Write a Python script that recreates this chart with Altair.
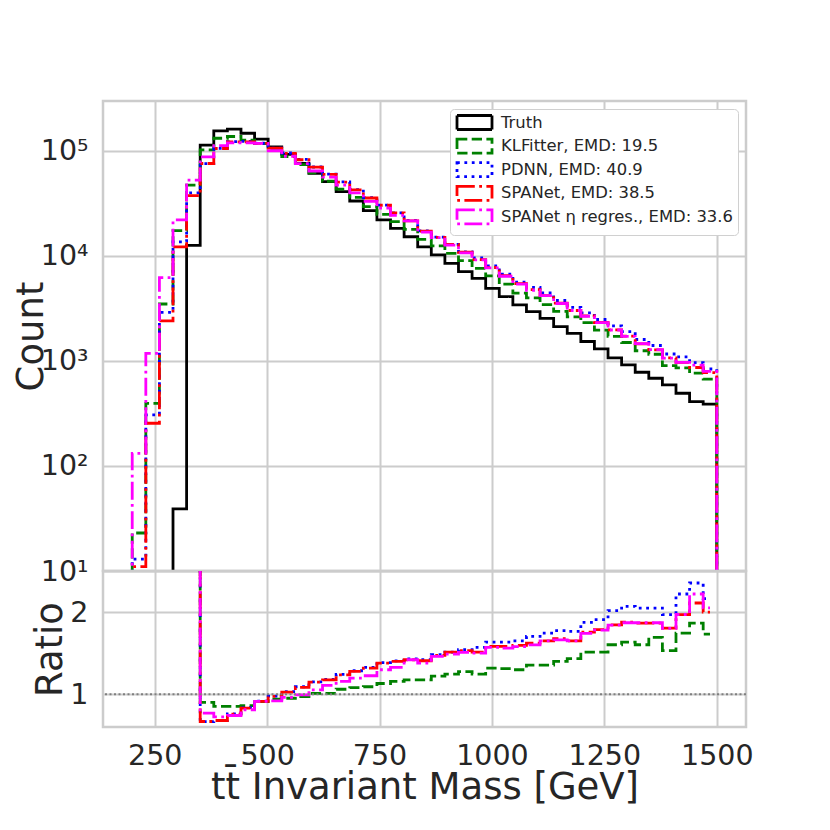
import altair as alt
import numpy as np
import pandas as pd

# ---------------- data ----------------
BIN_LO, BIN_HI, N_BINS = 200.0, 1500.0, 43

SERIES = ["Truth", "KLFitter, EMD: 19.5", "PDNN, EMD: 40.9",
          "SPANet, EMD: 38.5", "SPANet η regres., EMD: 33.6"]
COLORS = ["black", "green", "blue", "red", "magenta"]
DASHES = [[1, 0], [10.3, 4.4], [2.8, 4.6], [17.8, 4.4, 2.8, 4.4], [17.8, 4.4, 2.8, 4.4]]

# truth counts per bin (43 bins)
truth = [0, 0, 0, 39, 12600, 113500, 155000, 161000, 147000, 129000,
         109000, 92500, 76000, 61000, 50800, 40800, 33300, 27000, 22000, 18300,
         15200, 12200, 10200, 8500, 7080, 6100, 4900, 4100, 3410, 2940,
         2540, 2120, 1830, 1530, 1300, 1070, 916, 780, 684, 591,
         492, 410, 387]

# predicted counts in the first five bins
klf_low = [23, 395, 3480, 17400, 47200]
pdnn_low = [13, 306, 2900, 13600, 39800]
spa_low = [11, 255, 2400, 12200, 37400]
spaeta_low = [132, 1180, 6200, 22000, 52700]

# ratio to truth for bins 5..42
klf_ratio = [0.90, 0.85, 0.85, 0.86, 0.91, 0.94, 0.95, 0.97, 1.01, 1.01,
             1.06, 1.08, 1.09, 1.13, 1.155, 1.175, 1.175, 1.22, 1.245, 1.275,
             1.244, 1.317, 1.31, 1.297, 1.354, 1.354, 1.40, 1.432, 1.512, 1.512,
             1.602, 1.634, 1.602, 1.691, 1.529, 1.744, 1.866, 1.732]
pdnn_ratio = [0.665, 0.68, 0.76, 0.835, 0.915, 0.975, 1.03, 1.09, 1.15, 1.18,
              1.24, 1.285, 1.325, 1.385, 1.405, 1.43, 1.42, 1.48, 1.512, 1.541,
              1.57, 1.634, 1.634, 1.65, 1.704, 1.744, 1.773, 1.765, 1.874, 1.907,
              2.017, 2.07, 2.049, 2.049, 1.968, 2.22, 2.354, 2.163]
spa_ratio = [0.667, 0.679, 0.756, 0.829, 0.911, 0.972, 1.024, 1.082, 1.146, 1.175,
             1.236, 1.277, 1.317, 1.378, 1.399, 1.419, 1.407, 1.472, 1.512, 1.529,
             1.512, 1.582, 1.582, 1.594, 1.622, 1.65, 1.675, 1.65, 1.756, 1.785,
             1.845, 1.878, 1.866, 1.866, 1.805, 1.968, 2.11, 2.0]
spaeta_ratio = [0.77, 0.724, 0.74, 0.81, 0.911, 0.919, 0.96, 0.992, 1.053, 1.106,
                1.155, 1.195, 1.224, 1.297, 1.326, 1.419, 1.378, 1.46, 1.488, 1.51,
                1.50, 1.57, 1.56, 1.58, 1.60, 1.65, 1.66, 1.65, 1.74, 1.78,
                1.84, 1.87, 1.87, 1.87, 1.80, 1.97, 2.22, 2.05]

X_TICKS = [250, 500, 750, 1000, 1250, 1500]
Y_TICKS = [10, 100, 1000, 10000, 100000]
R_TICKS = [1, 2]

# ---------------- build tables ----------------
edges = np.linspace(BIN_LO, BIN_HI, N_BINS + 1)
centers = 0.5 * (edges[:-1] + edges[1:])
truth_a = np.array(truth, dtype=float)

preds = []
for low, rat in [(klf_low, klf_ratio), (pdnn_low, pdnn_ratio),
                 (spa_low, spa_ratio), (spaeta_low, spaeta_ratio)]:
    preds.append(np.concatenate([np.array(low, float), truth_a[5:] * np.array(rat)]))

FLOOR = 1.0


def hist_frame(name, vals):
    vals = np.asarray(vals, float)
    s = int(np.argmax(vals > 0))
    rows = [(edges[s], FLOOR)]
    rows += [(edges[k], vals[k]) for k in range(s, N_BINS)]
    rows += [(edges[N_BINS], vals[N_BINS - 1]), (edges[N_BINS], FLOOR)]
    return pd.DataFrame({"x": [r[0] for r in rows], "y": [r[1] for r in rows],
                         "i": range(len(rows)), "series": name})


def ratio_frame(name, vals):
    ks = [k for k in range(N_BINS) if truth_a[k] > 0]
    return pd.DataFrame({"x": centers[ks], "r": vals[ks] / truth_a[ks], "i": range(len(ks))})


FONT = "DejaVu Sans"
TXT = "#262626"
W, H_TOP, H_BOT = 643, 470, 156

xscale = alt.Scale(domain=[135, 1565], nice=False, zero=False)
yscale = alt.Scale(type="log", domain=[10, 2.98e5], nice=False)
rscale = alt.Scale(domain=[0.6, 2.5], nice=False, zero=False)

color_scale = alt.Scale(domain=SERIES, range=COLORS)
dash_scale = alt.Scale(domain=SERIES, range=DASHES)

legend = alt.Legend(title=None, orient="top-right", offset=8,
                    symbolType="M-2.5,-1H2.5V1H-2.5Z", symbolSize=196,
                    symbolStrokeWidth=2.8, symbolFillColor="transparent",
                    labelFont=FONT, labelFontSize=16.4, labelColor=TXT, labelLimit=500,
                    fillColor="white", strokeColor="#d0d0d0", cornerRadius=4,
                    padding=5, rowPadding=-3.4, symbolOffset=11, labelOffset=18)

top_x_axis = alt.Axis(values=X_TICKS, labels=False, ticks=False, domain=False,
                      title=None, grid=True, minExtent=0, maxExtent=0, labelPadding=0)
sup = {10: "¹", 100: "²", 1000: "³", 10000: "⁴", 100000: "⁵"}
label_expr = "'10' + (" + " : ".join(
    f"datum.value == {v} ? '{s}'" for v, s in sup.items()) + " : '')"
top_y_axis = alt.Axis(values=Y_TICKS, format=".0f", labelExpr=label_expr,
                      title="Count", titleX=-71.5, titleY=H_TOP / 2, titleAngle=270,
                      titleAlign="center", titleBaseline="middle",
                      ticks=False, domain=False, grid=True, labelPadding=15)

top_layers = []
for name, vals in zip(SERIES, [truth_a] + preds):
    top_layers.append(
        alt.Chart(hist_frame(name, vals)).mark_line(
            interpolate="step-after", clip=True, strokeWidth=2.8
        ).encode(
            x=alt.X("x:Q", scale=xscale, axis=top_x_axis),
            y=alt.Y("y:Q", scale=yscale, axis=top_y_axis),
            color=alt.Color("series:N", scale=color_scale, legend=legend),
            strokeDash=alt.StrokeDash("series:N", scale=dash_scale, legend=legend),
            order=alt.Order("i:Q"),
        )
    )
top = alt.layer(*top_layers).properties(width=W, height=H_TOP)

bot_x_axis = alt.Axis(values=X_TICKS, format="d", title="tt\u0304 Invariant Mass [GeV]",
                      ticks=False, domain=False, grid=True, labelPadding=14.5,
                      titleY=71.5, titleBaseline="alphabetic")
bot_y_axis = alt.Axis(values=R_TICKS, format="d", title="Ratio", titleX=-53,
                      titleY=H_BOT / 2, titleAngle=270, titleAlign="center",
                      titleBaseline="middle", ticks=False, domain=False, grid=True,
                      labelPadding=15)

bot_layers = []
for name, vals, col, dash in zip(SERIES[1:], preds, COLORS[1:], DASHES[1:]):
    bot_layers.append(
        alt.Chart(ratio_frame(name, vals)).mark_line(
            interpolate="step", clip=True, strokeWidth=2.8, color=col, strokeDash=dash
        ).encode(
            x=alt.X("x:Q", scale=xscale, axis=bot_x_axis),
            y=alt.Y("r:Q", scale=rscale, axis=bot_y_axis),
            order=alt.Order("i:Q"),
        )
    )
one_line = alt.Chart(pd.DataFrame({"v": [1.0]})).mark_rule(
    color="gray", strokeDash=[2, 2.5], strokeWidth=2
).encode(y=alt.Y("v:Q", scale=rscale, axis=bot_y_axis))
bot = alt.layer(*bot_layers, one_line).properties(width=W, height=H_BOT)

chart = alt.vconcat(top, bot, spacing=0, bounds="flush").resolve_scale(
    color="independent", strokeDash="independent"
).resolve_legend(
    color="independent", strokeDash="independent"
).properties(
    padding={"left": 3, "top": 91, "right": 5, "bottom": 5}
).configure(
    font=FONT, background="white"
).configure_view(
    stroke="#cccccc", strokeWidth=2.5
).configure_axis(
    gridColor="#cccccc", gridWidth=2, labelFont=FONT, labelFontSize=28.5,
    labelColor=TXT, titleFont=FONT, titleFontSize=37, titleColor=TXT,
    titleFontWeight="normal"
)

chart.save("out.html", embed_options={"renderer": "svg", "actions": False})
